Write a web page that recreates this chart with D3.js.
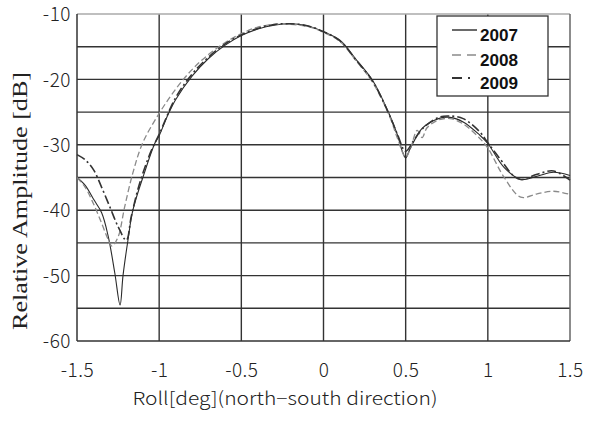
<!DOCTYPE html>
<html>
<head>
<meta charset="utf-8">
<script src="https://cdn.jsdelivr.net/npm/d3@7"></script>
<style>
  html, body { margin: 0; padding: 0; background: #fff; }
  svg { display: block; }
</style>
</head>
<body>
<svg id="chart" width="592" height="423"></svg>
<script>
// Roll angle [deg] / relative amplitude [dB] samples per year
const x2007 = [-1.5,-1.45,-1.4,-1.35,-1.31,-1.27,-1.238,-1.22,-1.19,-1.16,-1.09,-1.025,-1.0,-0.95,-0.9,-0.8,-0.7,-0.6,-0.5,-0.4,-0.3,-0.2,-0.1,0.0,0.1,0.2,0.3,0.4,0.45,0.48,0.5,0.52,0.55,0.6,0.7,0.77,0.85,0.95,1.0,1.1,1.2,1.3,1.4,1.5];
const y2007 = [-35,-36.2,-38.3,-40.4,-44,-49.6,-54.5,-50,-44.6,-40,-34.3,-29.7,-28.6,-25.6,-23.1,-19.5,-16.8,-14.8,-13.3,-12.3,-11.7,-11.5,-11.8,-12.7,-14.0,-17.0,-20.2,-25.3,-28.5,-31,-32,-31,-29.5,-27.5,-26,-25.8,-26.5,-28.5,-29.8,-33.5,-35.3,-34.8,-34.2,-34.7];

const x2008 = [-1.5,-1.45,-1.4,-1.35,-1.31,-1.287,-1.25,-1.21,-1.16,-1.1,-1.0,-0.9,-0.8,-0.7,-0.6,-0.5,-0.4,-0.3,-0.2,-0.1,0.0,0.1,0.2,0.3,0.4,0.45,0.5,0.53,0.57,0.6,0.63,0.7,0.77,0.85,0.95,1.0,1.1,1.2,1.3,1.4,1.5];
const y2008 = [-35,-36.5,-39,-42,-44.5,-45.5,-44.1,-39.5,-34.3,-29.7,-25.2,-21.5,-18.5,-16.2,-14.4,-13,-12,-11.6,-11.6,-11.9,-12.8,-14.2,-17.2,-20.5,-25.5,-29,-31.9,-30.5,-27.8,-28.9,-27.4,-26.2,-26,-26.8,-29,-30.5,-35,-38,-37.5,-37.1,-37.6];

const x2009 = [-1.5,-1.45,-1.4,-1.35,-1.3,-1.25,-1.2,-1.17,-1.12,-1.05,-1.0,-0.9,-0.8,-0.7,-0.6,-0.5,-0.4,-0.3,-0.2,-0.1,0.0,0.1,0.2,0.3,0.4,0.45,0.5,0.55,0.6,0.7,0.77,0.85,0.95,1.0,1.1,1.15,1.2,1.3,1.4,1.5];
const y2009 = [-31.5,-32.3,-33.8,-36.5,-39.5,-42.5,-44.6,-41,-36,-31,-28.4,-22.8,-19.2,-16.6,-14.6,-13.2,-12.2,-11.6,-11.5,-11.8,-12.7,-14.1,-17.1,-20.3,-25.4,-28.4,-31,-29.3,-27.6,-25.8,-25.6,-26,-28,-29.7,-33,-34.6,-35.3,-34.5,-34,-35.4];

const xTicks = [-1.5, -1, -0.5, 0, 0.5, 1, 1.5];
const xTickLabels = ["-1.5", "-1", "-0.5", "0", "0.5", "1", "1.5"];
const yTicks = [-60, -50, -40, -30, -20, -10];
const yGrid = [-55, -50, -45, -40, -35, -30, -25, -20, -15];
const years = ["2007", "2008", "2009"];

const series = [
  { name: years[0], xs: x2007, ys: y2007, stroke: "#2a2a2a", width: 1.1, dash: null },
  { name: years[1], xs: x2008, ys: y2008, stroke: "#8a8a8a", width: 1.3, dash: "6,3" },
  { name: years[2], xs: x2009, ys: y2009, stroke: "#333", width: 1.6, dash: "9,3,2,3" }
];

const svg = d3.select("#chart");
const L = 77, R = 570, T = 14, B = 341;

const x = d3.scaleLinear().domain([-1.5, 1.5]).range([L, R]);
const y = d3.scaleLinear().domain([-60, -10]).range([B, T]);

// grid
const g = svg.append("g");
g.selectAll("line.h").data(yGrid).join("line")
  .attr("x1", L).attr("x2", R)
  .attr("y1", d => y(d)).attr("y2", d => y(d))
  .attr("stroke", "#333").attr("stroke-width", 1.4);
g.selectAll("line.v").data(xTicks.slice(1, -1)).join("line")
  .attr("x1", d => x(d)).attr("x2", d => x(d))
  .attr("y1", T).attr("y2", B)
  .attr("stroke", "#333").attr("stroke-width", 1.4);

// frame
g.append("line").attr("x1", L).attr("x2", R).attr("y1", T).attr("y2", T)
  .attr("stroke", "#aaa").attr("stroke-width", 1.5);
g.append("line").attr("x1", R).attr("x2", R).attr("y1", T).attr("y2", B)
  .attr("stroke", "#666").attr("stroke-width", 1.5);
g.append("line").attr("x1", L).attr("x2", L).attr("y1", T).attr("y2", B)
  .attr("stroke", "#333").attr("stroke-width", 1.5);
g.append("line").attr("x1", L).attr("x2", R).attr("y1", B).attr("y2", B)
  .attr("stroke", "#333").attr("stroke-width", 1.5);

// tick labels via d3 axes (domain/ticks hidden)
const tickFont = "'Noto Sans CJK JP', 'DejaVu Sans Mono', monospace";
const xAxis = d3.axisBottom(x).tickValues(xTicks).tickFormat((d, i) => xTickLabels[i]).tickSize(0).tickPadding(0);
const xa = svg.append("g").attr("transform", `translate(0,${B + 36})`).call(xAxis);
const yAxis = d3.axisLeft(y).tickValues(yTicks).tickFormat(d => String(d)).tickSize(0).tickPadding(0);
const ya = svg.append("g").attr("transform", `translate(${L - 6},0)`).call(yAxis);
[xa, ya].forEach(a => {
  a.select(".domain").remove();
  a.selectAll("text")
    .attr("fill", "#222")
    .style("font-family", tickFont)
    .style("font-size", "19px")
    .style("font-weight", "300")
    .style("letter-spacing", "0.5px");
});
ya.selectAll("text").attr("dy", "0.35em");
xa.selectAll("text").attr("dy", "0");

// curves
const line = d3.line().x(d => x(d[0])).y(d => y(d[1])).curve(d3.curveCatmullRom.alpha(0.5));
series.forEach(s => {
  svg.append("path")
    .datum(s.xs.map((v, i) => [v, s.ys[i]]))
    .attr("d", line)
    .attr("fill", "none")
    .attr("stroke", s.stroke)
    .attr("stroke-width", s.width)
    .attr("stroke-dasharray", s.dash);
});

// legend
const lg = svg.append("g");
lg.append("rect").attr("x", 437).attr("y", 16).attr("width", 111).attr("height", 80)
  .attr("fill", "#fff").attr("stroke", "#333").attr("stroke-width", 1.3);
const rowY = [35, 60, 83];
series.forEach((s, i) => {
  lg.append("line").attr("x1", 452).attr("x2", 477)
    .attr("y1", rowY[i] - 5).attr("y2", rowY[i] - 5)
    .attr("stroke", s.stroke).attr("stroke-width", s.width + 0.3)
    .attr("stroke-dasharray", i === 0 ? null : (i === 1 ? "9,6" : "10,6,2,20"));
  lg.append("text").attr("x", 480).attr("y", rowY[i] + 6)
    .text(s.name)
    .attr("fill", "#111")
    .style("font-family", "'Liberation Sans', Arial, sans-serif")
    .style("font-size", "16px")
    .style("font-weight", "bold")
    .attr("textLength", 38)
    .attr("lengthAdjust", "spacingAndGlyphs");
});

// axis titles
svg.append("text").attr("x", 285).attr("y", 405)
  .attr("text-anchor", "middle")
  .attr("textLength", 305)
  .attr("lengthAdjust", "spacingAndGlyphs")
  .attr("fill", "#222")
  .style("font-family", "'Noto Sans CJK JP', sans-serif")
  .style("font-size", "18px")
  .style("font-weight", "300")
  .text("Roll[deg](north\u2212south direction)");

svg.append("text")
  .attr("transform", "translate(27,201) rotate(-90)")
  .attr("text-anchor", "middle")
  .attr("textLength", 258)
  .attr("lengthAdjust", "spacingAndGlyphs")
  .attr("fill", "#222")
  .style("font-family", "'Liberation Serif', 'DejaVu Serif', serif")
  .style("font-size", "20px")
  .text("Relative Amplitude [dB]");
</script>
</body>
</html>
